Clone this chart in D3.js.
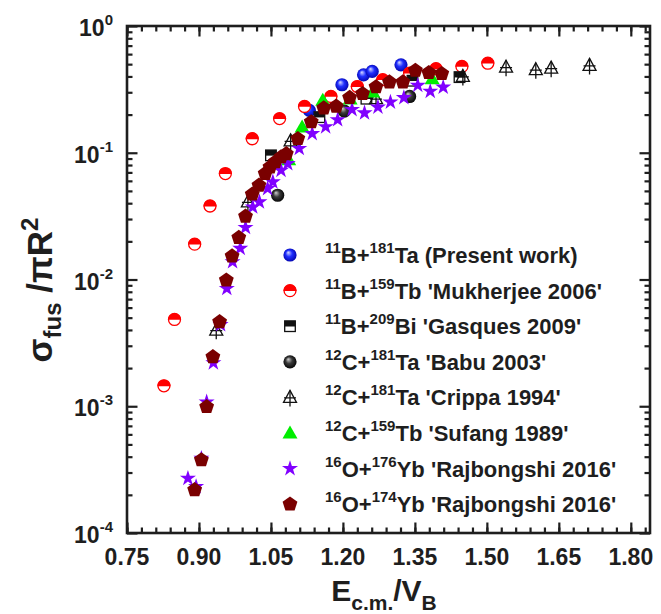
<!DOCTYPE html>
<html>
<head>
<meta charset="utf-8">
<script src="https://cdn.jsdelivr.net/npm/d3@7"></script>
<style>
  body { margin: 0; background: #fff; }
  svg { display: block; }
  text { font-family: "Liberation Sans", Arial, sans-serif; font-weight: bold; fill: #1e1e1e; }
</style>
</head>
<body>
<svg id="chart" width="661" height="614"></svg>
<script>
// Reduced fusion cross sections sigma_fus / (pi R^2) against E_c.m./V_B

// 11B + 181Ta (present work)
const presentX = [1.130, 1.198, 1.243, 1.261, 1.321];
const presentY = [0.216, 0.344, 0.412, 0.438, 0.494];

// 11B + 159Tb, Mukherjee 2006
const mukherjeeX = [0.827, 0.849, 0.891, 0.923, 0.955, 1.011, 1.068, 1.120, 1.175, 1.230, 1.283, 1.339, 1.394, 1.448, 1.502];
const mukherjeeY = [1.45e-3, 4.84e-3, 0.0190, 0.0380, 0.0685, 0.129, 0.186, 0.232, 0.278, 0.333, 0.377, 0.425, 0.460, 0.480, 0.509];

// 11B + 209Bi, Gasques 2009
const gasquesX = [1.050, 1.151, 1.249, 1.345, 1.443];
const gasquesY = [0.0954, 0.191, 0.267, 0.370, 0.395];

// 12C + 181Ta, Babu 2003
const babuX = [1.064, 1.203, 1.339];
const babuY = [0.0462, 0.213, 0.278];

// 12C + 181Ta, Crippa 1994
const crippaX = [0.936, 1.002, 1.091, 1.269, 1.450, 1.540, 1.602, 1.634, 1.714];
const crippaY = [3.98e-3, 0.0409, 0.124, 0.267, 0.400, 0.473, 0.452, 0.465, 0.489];

// 12C + 159Tb, Sufang 1989
const sufangX = [1.087, 1.115, 1.158, 1.215, 1.262, 1.386];
const sufangY = [0.088, 0.160, 0.259, 0.265, 0.301, 0.384];

// 16O + 176Yb, Rajbongshi 2016
const yb176X = [0.877, 0.894, 0.905, 0.916, 0.930, 0.945, 0.958, 0.970, 0.986, 0.997, 1.012, 1.026, 1.043, 1.054, 1.071, 1.085, 1.109, 1.136, 1.164, 1.189, 1.219, 1.245, 1.273, 1.299, 1.327, 1.356, 1.382, 1.409];
const yb176Y = [2.70e-4, 2.32e-4, 3.88e-4, 1.08e-3, 2.20e-3, 4.40e-3, 8.49e-3, 0.0138, 0.0176, 0.0257, 0.0373, 0.0409, 0.0521, 0.0588, 0.0727, 0.082, 0.108, 0.1415, 0.160, 0.182, 0.219, 0.206, 0.229, 0.251, 0.272, 0.340, 0.305, 0.329];

// 16O + 174Yb, Rajbongshi 2016
const yb174X = [0.891, 0.905, 0.916, 0.929, 0.943, 0.957, 0.969, 0.983, 0.997, 1.011, 1.025, 1.038, 1.048, 1.059, 1.071, 1.082, 1.106, 1.134, 1.160, 1.186, 1.214, 1.241, 1.269, 1.297, 1.325, 1.351, 1.379, 1.406];
const yb174Y = [2.19e-4, 3.77e-4, 9.9e-4, 2.45e-3, 4.63e-3, 9.87e-3, 0.0153, 0.0214, 0.0315, 0.047, 0.0553, 0.0685, 0.0771, 0.0845, 0.0925, 0.098, 0.129, 0.175, 0.225, 0.232, 0.272, 0.292, 0.330, 0.361, 0.361, 0.446, 0.428, 0.420];

// axis ticks
const xMajorTicks = [0.75, 0.90, 1.05, 1.20, 1.35, 1.50, 1.65, 1.80];
const xTickLabels = ["0.75", "0.90", "1.05", "1.20", "1.35", "1.50", "1.65", "1.80"];
const yMajorExponents = [0, -1, -2, -3, -4];

const series = [
  { label: ["11", "B+", "181", "Ta (Present work)"], xs: presentX, ys: presentY, sym: "blueSphere" },
  { label: ["11", "B+", "159", "Tb 'Mukherjee 2006'"], xs: mukherjeeX, ys: mukherjeeY, sym: "halfCircle" },
  { label: ["11", "B+", "209", "Bi 'Gasques 2009'"], xs: gasquesX, ys: gasquesY, sym: "halfSquare" },
  { label: ["12", "C+", "181", "Ta 'Babu 2003'"], xs: babuX, ys: babuY, sym: "blackSphere" },
  { label: ["12", "C+", "181", "Ta 'Crippa 1994'"], xs: crippaX, ys: crippaY, sym: "crossTriangle" },
  { label: ["12", "C+", "159", "Tb 'Sufang 1989'"], xs: sufangX, ys: sufangY, sym: "greenTriangle" },
  { label: ["16", "O+", "176", "Yb 'Rajbongshi 2016'"], xs: yb176X, ys: yb176Y, sym: "star" },
  { label: ["16", "O+", "174", "Yb 'Rajbongshi 2016'"], xs: yb174X, ys: yb174Y, sym: "pentagon" }
];

const svg = d3.select("#chart");
const L = 127, R = 650, T = 26, B = 533;

const x = d3.scaleLinear().domain([0.75, 1.84]).range([L, R]);
const y = d3.scaleLog().domain([1e-4, 1]).range([B, T]);

// gradients for the shaded spheres
const defs = svg.append("defs");
function sphereGrad(id, light, mid, dark) {
  const g = defs.append("radialGradient").attr("id", id)
    .attr("cx", "0.5").attr("cy", "0.5").attr("r", "0.55")
    .attr("fx", "0.36").attr("fy", "0.3");
  g.append("stop").attr("offset", "0").attr("stop-color", light);
  g.append("stop").attr("offset", "0.45").attr("stop-color", mid);
  g.append("stop").attr("offset", "1").attr("stop-color", dark);
}
sphereGrad("gBlue", "#d8dcff", "#2030ff", "#0000a8");
sphereGrad("gBlack", "#d0d0d0", "#3a3a3a", "#000000");

// marker painters
function pentagonPath(r) {
  const pts = d3.range(5).map(i => {
    const a = -Math.PI / 2 + i * 2 * Math.PI / 5;
    return [r * Math.cos(a), r * Math.sin(a)];
  });
  return "M" + pts.map(p => p.join(",")).join("L") + "Z";
}
function drawSymbol(g, sym) {
  switch (sym) {
    case "blueSphere":
      g.append("circle").attr("r", 6.6).attr("fill", "url(#gBlue)");
      break;
    case "blackSphere":
      g.append("circle").attr("r", 6.6).attr("fill", "url(#gBlack)");
      break;
    case "halfCircle":
      g.append("circle").attr("r", 6).attr("fill", "#fff").attr("stroke", "#ff0000").attr("stroke-width", 1.3);
      g.append("path").attr("d", "M-6.6,0.4A6.6,6.6 0 0 1 6.6,0.4Z").attr("fill", "#ff0000");
      break;
    case "halfSquare":
      g.append("rect").attr("x", -5.3).attr("y", -5.3).attr("width", 10.6).attr("height", 10.6)
        .attr("fill", "#fff").attr("stroke", "#111").attr("stroke-width", 1.3);
      g.append("rect").attr("x", -5.3).attr("y", -5.3).attr("width", 10.6).attr("height", 5.6).attr("fill", "#111");
      break;
    case "crossTriangle":
      g.append("path").attr("d", "M0,-7L6.5,5L-6.5,5Z").attr("fill", "none").attr("stroke", "#111").attr("stroke-width", 1.3);
      g.append("path").attr("d", "M0,-7V9M-6,0.5H6").attr("fill", "none").attr("stroke", "#111").attr("stroke-width", 1.3);
      break;
    case "greenTriangle":
      g.append("path").attr("d", "M0,-7.5L7.5,5.5L-7.5,5.5Z").attr("fill", "#00ee00");
      break;
    case "star":
      g.append("path").attr("d", d3.symbol(d3.symbolStar, 80)()).attr("fill", "#8000ff");
      break;
    case "pentagon":
      g.append("path").attr("d", pentagonPath(7.8)).attr("fill", "#7a0000");
      break;
  }
}

// data marks
series.forEach(s => {
  const grp = svg.append("g");
  s.xs.forEach((xv, i) => {
    const g = grp.append("g").attr("transform", `translate(${x(xv)},${y(s.ys[i])})`);
    drawSymbol(g, s.sym);
  });
});

// frame
svg.append("rect").attr("x", L).attr("y", T).attr("width", R - L).attr("height", B - T)
  .attr("fill", "none").attr("stroke", "#1e1e1e").attr("stroke-width", 2.6);

// ticks, pointing inward on all four sides
const xMinor = d3.range(0, 37).map(i => +(0.75 + i * 0.03).toFixed(2)).filter(v => v <= 1.84);
const yMinor = [];
yMajorExponents.slice(0, 4).forEach(e => {
  for (let k = 2; k <= 9; k++) yMinor.push(k * Math.pow(10, e - 1));
});
const yMajor = yMajorExponents.map(e => Math.pow(10, e));

function tickGroup(axis, transform) {
  const g = svg.append("g").attr("transform", transform).call(axis);
  g.select(".domain").remove();
  g.selectAll("line").attr("stroke", "#1e1e1e").attr("stroke-width", 2.2);
  g.selectAll("text").remove();
  return g;
}
tickGroup(d3.axisBottom(x).tickValues(xMinor).tickSize(-5.5), `translate(0,${B})`);
tickGroup(d3.axisBottom(x).tickValues(xMajorTicks).tickSize(-10.5), `translate(0,${B})`);
tickGroup(d3.axisTop(x).tickValues(xMinor).tickSize(-5.5), `translate(0,${T})`);
tickGroup(d3.axisTop(x).tickValues(xMajorTicks).tickSize(-10.5), `translate(0,${T})`);
tickGroup(d3.axisLeft(y).tickValues(yMinor).tickSize(-5.5), `translate(${L},0)`);
tickGroup(d3.axisLeft(y).tickValues(yMajor).tickSize(-10.5), `translate(${L},0)`);
tickGroup(d3.axisRight(y).tickValues(yMinor).tickSize(-5.5), `translate(${R},0)`);
tickGroup(d3.axisRight(y).tickValues(yMajor).tickSize(-10.5), `translate(${R},0)`);

// x tick labels
svg.append("g").selectAll("text").data(xMajorTicks).join("text")
  .attr("x", d => x(d)).attr("y", B + 32)
  .attr("text-anchor", "middle").attr("font-size", 23)
  .text((d, i) => xTickLabels[i]);

// y tick labels: 10 with superscript exponent
yMajorExponents.forEach(e => {
  const t = svg.append("text").attr("x", L - 14).attr("y", y(Math.pow(10, e)) + 10)
    .attr("text-anchor", "end").attr("font-size", 23);
  t.append("tspan").text("10");
  t.append("tspan").attr("font-size", 15).attr("dy", -11).text(String(e));
});

// x axis title
const xt = svg.append("text").attr("x", 384).attr("y", 601).attr("text-anchor", "middle").attr("font-size", 30);
xt.append("tspan").text("E");
xt.append("tspan").attr("font-size", 21).attr("dy", 9).text("c.m.");
xt.append("tspan").attr("dy", -9).text("/V");
xt.append("tspan").attr("font-size", 21).attr("dy", 9).text("B");

// y axis title
const yt = svg.append("text").attr("transform", `translate(52,290) rotate(-90)`)
  .attr("text-anchor", "middle").attr("font-size", 35);
yt.append("tspan").text("σ");
yt.append("tspan").attr("font-size", 24).attr("dy", 9).text("fus");
yt.append("tspan").attr("dy", -9).text(" /πR");
yt.append("tspan").attr("font-size", 24).attr("dy", -14).text("2");

// legend
const legX = 290, legTextX = 325, legY0 = 255, legStep = 35.6;
series.forEach((s, i) => {
  const cy = legY0 + i * legStep;
  const g = svg.append("g").attr("transform", `translate(${legX},${cy})`);
  drawSymbol(g, s.sym);
  const t = svg.append("text").attr("x", legTextX).attr("y", cy + 8).attr("font-size", 22);
  t.append("tspan").attr("font-size", 15).attr("dy", -10).text(s.label[0]);
  t.append("tspan").attr("dy", 10).text(s.label[1]);
  t.append("tspan").attr("font-size", 15).attr("dy", -10).text(s.label[2]);
  t.append("tspan").attr("dy", 10).text(s.label[3]);
});
</script>
</body>
</html>
